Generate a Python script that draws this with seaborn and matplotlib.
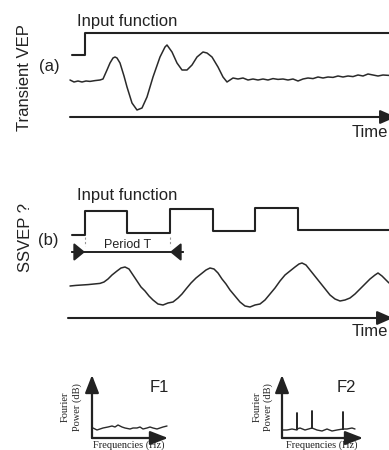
import matplotlib
matplotlib.use("Agg")
import matplotlib.pyplot as plt
import seaborn as sns

# ---------------- (a) transient VEP: time in ms after onset, amplitude in uV
vep_time = [-30, -22, -14, -6, 2, 10, 20, 30, 36, 44, 50, 56, 60, 64, 70, 78, 84,
            94, 104, 114, 124, 136, 150, 160, 164, 174, 184, 194, 204, 214, 224,
            236, 244, 254, 266, 276, 284, 290, 296, 306, 316, 326, 336, 346, 356,
            366, 376, 386, 396, 406, 416, 426, 436, 446, 456, 466, 476, 486, 496,
            506, 516, 526, 536, 546, 556, 566, 576, 586, 596, 608]
vep_uv = [0.25, -0.25, 0.0, -0.25, 0.0, -0.1, 0.1, 0.25, 0.5, 2.75, 4.5, 5.75, 6.0,
          5.75, 4.5, 1.25, -1.5, -5.5, -7.25, -6.75, -4.0, 1.0, 6.0, 8.5, 9.0, 7.25,
          4.5, 2.75, 2.75, 4.0, 6.0, 7.25, 7.0, 6.0, 3.5, 1.0, -0.25, 0.25, 0.75,
          0.5, 0.75, 0.25, 0.5, 0.25, 0.5, 0.25, 0.6, 0.4, 0.5, 0.25, 0.5, 0.0, 0.5,
          0.75, 0.6, 1.0, 0.75, 1.0, 0.9, 1.25, 1.0, 1.25, 1.1, 1.5, 1.25, 1.75,
          1.5, 1.25, 1.5, 1.4]

# step stimulus (0 = off, 1 = on)
step_time = [-26, 0, 0, 608]
step_level = [0, 0, 1, 1]

# ---------------- (b) periodic stimulation
ssvep_time = [-30, -18, -6, 6, 18, 30, 38, 46, 54, 64, 72, 80, 88, 96, 104, 112,
              120, 128, 136, 146, 156, 166, 176, 186, 194, 202, 212, 222, 232, 242,
              250, 258, 266, 274, 282, 290, 300, 310, 320, 330, 340, 350, 360, 370,
              380, 390, 400, 410, 420, 428, 434, 442, 450, 458, 466, 474, 482, 490,
              500, 510, 520, 530, 540, 550, 560, 570, 580, 586, 594, 602, 608]
ssvep_uv = [-0.25, -0.1, 0.0, 0.1, 0.25, 0.4, 0.75, 1.5, 2.5, 3.5, 4.25, 4.5, 4.0,
            2.5, 1.0, -0.5, -1.5, -2.75, -3.75, -4.75, -5.0, -4.5, -4.25, -3.25,
            -2.25, -1.0, 0.5, 1.75, 2.75, 3.75, 4.25, 4.0, 3.0, 1.5, 0.25, -1.25,
            -2.75, -4.25, -5.25, -5.5, -5.0, -4.75, -3.75, -2.25, -0.75, 1.0, 2.5,
            3.5, 4.5, 5.25, 5.5, 5.0, 3.75, 2.5, 1.25, 0.0, -1.25, -2.5, -3.5, -4.0,
            -3.75, -3.25, -2.25, -1.0, 0.25, 1.5, 2.5, 3.0, 2.25, 1.25, 0.5]

square_time = [-26, 0, 0, 84, 84, 170, 170, 256, 256, 340, 340, 426, 426, 608]
square_level = [0, 0, 1, 1, 0.08, 0.08, 1.08, 1.08, 0.17, 0.17, 1.12, 1.12, 0.21, 0.21]
period_ms = 170

# ---------------- spectra (frequency in Hz, power in dB)
f1_hz = [0.5, 2.5, 4, 5.5, 8, 10, 11.5, 13, 15, 16.5, 19, 20.5, 22.5, 24, 25.5,
         27.5, 29, 30.5, 32.5, 34, 35.5, 37.5]
f1_db = [10, 8, 9, 10, 11, 12, 11, 13, 11, 10, 9, 10, 10, 11, 9, 10, 11, 10, 9,
         10, 11, 12]
f2_hz = [0.5, 2.5, 5, 7.5, 7.5, 7.5, 9, 11.5, 15, 15, 15, 17.5, 20, 22.5, 25,
         27.5, 30.5, 30.5, 30.5, 32.5, 35, 36.5]
f2_db = [8, 8, 9, 8, 25, 9, 10, 8, 10, 27, 10, 8, 7, 9, 7, 8, 9, 26, 9, 9, 10, 9]

sns.set_theme(style="white")
plt.rcParams["font.family"] = ["Liberation Sans", "DejaVu Sans"]

INK = "#222222"
TRACE = "#2a2a2a"
W, H = 389, 450
fig = plt.figure(figsize=(W / 100, H / 100), dpi=100)
fig.patch.set_facecolor("white")


def px_axes(x0, y0, x1, y1):
    ax = fig.add_axes([x0 / W, 1 - y1 / H, (x1 - x0) / W, (y1 - y0) / H])
    ax.set_axis_off()
    ax.patch.set_alpha(0)
    return ax


def ftext(x, y, s, **kw):
    kw.setdefault("color", INK)
    fig.text(x / W, 1 - y / H, s, **kw)


def line(ax, x, y, lw, color=TRACE):
    sns.lineplot(x=x, y=y, ax=ax, color=color, linewidth=lw, sort=False,
                 estimator=None, legend=False)
    ax.set_axis_off()


def arrow(ax, start, end, coords="data", hl=0.8, hw=0.35, lw=1.5):
    ax.annotate("", xy=end, xytext=start, xycoords=coords, textcoords=coords,
                annotation_clip=False,
                arrowprops=dict(arrowstyle=f"-|>,head_length={hl},head_width={hw}",
                                color=INK, lw=lw, shrinkA=0, shrinkB=0))


# ---------------- panel (a)
ax_a = px_axes(65, 25, 389, 125)
line(ax_a, vep_time, vep_uv, 1.1)
ax_a.set_xlim(-40, 608)
ax_a.set_ylim(-11, 14)
arrow(ax_a, (-30, -9), (622, -9))

ax_sa = px_axes(65, 25, 389, 65)
line(ax_sa, step_time, step_level, 1.5, color=INK)
ax_sa.set_xlim(-40, 608)
ax_sa.set_ylim(-0.4545, 1.364)

ftext(77, 26, "Input function", fontsize=12, va="baseline")
ftext(25, 78, "Transient VEP", fontsize=12, rotation=90, ha="center", va="center")
ftext(49, 67, "(a)", fontsize=12, ha="center", va="center")
ftext(388, 137, "Time", fontsize=12, ha="right", va="baseline")

# ---------------- panel (b)
ax_b = px_axes(65, 200, 389, 325)
line(ax_b, ssvep_time, ssvep_uv, 1.1)
ax_b.set_xlim(-40, 608)
ax_b.set_ylim(-10, 21.25)
arrow(ax_b, (-34, -8.25), (616, -8.25))

ax_sb = px_axes(65, 195, 389, 260)
line(ax_sb, square_time, square_level, 1.5, color=INK)
ax_sb.set_xlim(-40, 608)
ax_sb.set_ylim(-1.0417, 1.6667)
for t in (0, period_ms):
    ax_sb.plot([t, t], [-0.083, -0.458], color="#9a9a9a", lw=0.8, ls=(0, (2, 2)))
ax_sb.plot([-26, period_ms + 26], [-0.708, -0.708], color=INK, lw=1.4)
arrow(ax_sb, (-26, -0.708), (0, -0.708), hl=0.55, hw=0.45, lw=1.4)
arrow(ax_sb, (period_ms + 26, -0.708), (period_ms, -0.708), hl=0.55, hw=0.45, lw=1.4)
ax_sb.text(period_ms / 2, -0.417, "Period T", fontsize=9, ha="center", va="center",
           color=INK)

ftext(77, 200, "Input function", fontsize=12, va="baseline")
ftext(25, 238, "SSVEP ?", fontsize=12, rotation=90, ha="center", va="center")
ftext(48, 240, "(b)", fontsize=12, ha="center", va="center")
ftext(388, 336, "Time", fontsize=12, ha="right", va="baseline")

# ---------------- spectra insets
serif = ["Liberation Serif", "DejaVu Serif"]
for (x0, x1, xmax, hz, db, name, lab_x, fx) in [
        (92, 168, 38, f1_hz, f1_db, "F1", 150, (65, 77, 128.5)),
        (282, 363, 40.5, f2_hz, f2_db, "F2", 337, (257, 268, 321.5))]:
    ax = px_axes(x0, 375, x1, 438)
    line(ax, hz, db, 1.0)
    ax.set_xlim(0, xmax)
    ax.set_ylim(0, 63)
    arrow(ax, (0, 0), (0, 1), coords="axes fraction", hl=0.9, hw=0.35, lw=1.6)
    arrow(ax, (0, 0), (1, 0), coords="axes fraction", hl=0.9, hw=0.35, lw=1.6)
    ftext(lab_x, 392, name, fontsize=12, va="baseline")
    ftext(fx[0], 407, "Fourier", fontsize=7.5, family=serif, rotation=90,
          ha="center", va="center")
    ftext(fx[1], 407, "Power (dB)", fontsize=7.5, family=serif, rotation=90,
          ha="center", va="center")
    ftext(fx[2], 447.5, "Frequencies (Hz)", fontsize=7.5, family=serif,
          ha="center", va="baseline")

fig.savefig("out.png", dpi=100, facecolor="white")
